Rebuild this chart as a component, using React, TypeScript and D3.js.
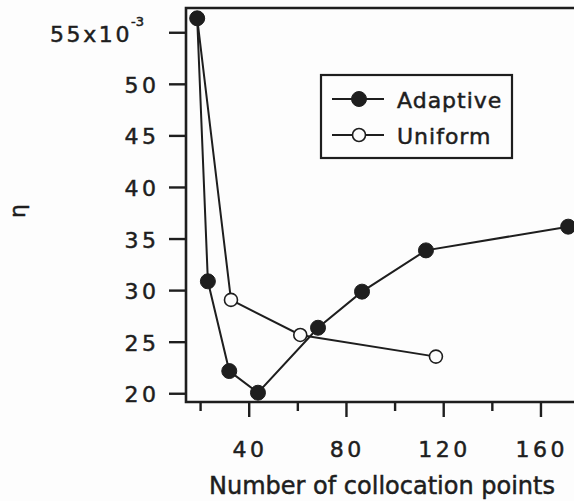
import { useEffect, useRef } from 'react';
import { select, scaleLinear, line } from 'd3';

// values (eta in units of 1e-3)
const adaptiveX = [18.6, 23, 31.8, 43.6, 68.3, 86.4, 112.7, 171.2];
const adaptiveY = [56.4, 30.9, 22.2, 20.1, 26.4, 29.9, 33.9, 36.2];
const uniformX = [18.6, 32.5, 61, 116.8];
const uniformY = [56.4, 29.1, 25.7, 23.6];
const xMajorTicks = [40, 80, 120, 160];
const xMinorTicks = [20, 60, 100, 140];
const yTicks = [20, 25, 30, 35, 40, 45, 50, 55];
const legendLabels = ['Adaptive', 'Uniform'];

const W = 574;
const H = 501;
const INK = '#1e1e1e';
const PAPER = '#fdfdfd';
const FONT = '"DejaVu Sans", Verdana, sans-serif';
const NUM_SPACING = 3.5;

export default function App() {
  const svgRef = useRef<SVGSVGElement>(null);

  useEffect(() => {
    if (!svgRef.current) return;
    const svg = select(svgRef.current);
    svg.selectAll('*').remove();

    const x = scaleLinear().domain([14, 174]).range([186, 575]);
    const y = scaleLinear().domain([19.2, 57.4]).range([402, 8]);
    const [x0] = x.range();
    const [yb, yt] = y.range();

    svg.append('rect').attr('width', W).attr('height', H).attr('fill', PAPER);

    // scanned print is a bit heavier than the regular face
    const ink = (sel: any) => sel.attr('fill', INK).attr('stroke', INK).attr('stroke-width', 0.5)
      .style('font-family', FONT);

    // frame (left, top, bottom; right side runs off the page)
    svg.append('path')
      .attr('d', `M${W + 5},${yt}H${x0}V${yb}H${W + 5}`)
      .attr('fill', 'none').attr('stroke', INK).attr('stroke-width', 2.6);

    // x ticks
    const xt = svg.append('g');
    xMajorTicks.forEach(t => {
      xt.append('line').attr('x1', x(t)).attr('x2', x(t)).attr('y1', yb).attr('y2', yb + 15)
        .attr('stroke', INK).attr('stroke-width', 2.4);
      xt.append('text').attr('x', x(t) + NUM_SPACING / 2 - 1).attr('y', 456.5).attr('text-anchor', 'middle')
        .style('font-size', '22px').style('letter-spacing', `${NUM_SPACING}px`)
        .call(ink).text(String(t));
    });
    xMinorTicks.forEach(t => {
      xt.append('line').attr('x1', x(t)).attr('x2', x(t)).attr('y1', yb).attr('y2', yb + 9)
        .attr('stroke', INK).attr('stroke-width', 2.4);
    });

    // y ticks
    const yg = svg.append('g');
    yTicks.forEach(t => {
      yg.append('line').attr('x1', x0 - 17).attr('x2', x0).attr('y1', y(t)).attr('y2', y(t))
        .attr('stroke', INK).attr('stroke-width', 2.4);
      if (t === 55) {
        const lab = yg.append('text').attr('x', 50).attr('y', y(t) + 9)
          .style('font-size', '22px').call(ink);
        lab.append('tspan').style('letter-spacing', '2.6px').text('55x10');
        lab.append('tspan').attr('dx', -1).attr('dy', -16).style('font-size', '13px').text('-3');
      } else {
        yg.append('text').attr('x', 156 + NUM_SPACING).attr('y', y(t) + 8.5)
          .attr('text-anchor', 'end').style('font-size', '22px')
          .style('letter-spacing', `${NUM_SPACING}px`).call(ink).text(String(t));
      }
    });

    // axis titles
    svg.append('text').attr('x', 382).attr('y', 494).attr('text-anchor', 'middle')
      .style('font-size', '24px').call(ink).text('Number of collocation points');
    svg.append('text').attr('transform', 'translate(25,211) rotate(-90)').attr('text-anchor', 'middle')
      .style('font-size', '22px').call(ink).text('η');

    const drawSeries = (xs: number[], ys: number[], filled: boolean) => {
      const pts = xs.map((v, i) => [x(v), y(ys[i])] as [number, number]);
      svg.append('path').datum(pts).attr('d', line())
        .attr('fill', 'none').attr('stroke', INK).attr('stroke-width', 2);
      svg.append('g').selectAll('circle').data(pts).join('circle')
        .attr('cx', d => d[0]).attr('cy', d => d[1]).attr('r', filled ? 7.5 : 6.5)
        .attr('fill', filled ? INK : PAPER).attr('stroke', INK).attr('stroke-width', filled ? 1 : 1.6);
    };
    drawSeries(uniformX, uniformY, false);
    drawSeries(adaptiveX, adaptiveY, true);

    // legend
    const lg = svg.append('g');
    lg.append('rect').attr('x', 321).attr('y', 75).attr('width', 191).attr('height', 83)
      .attr('fill', PAPER).attr('stroke', INK).attr('stroke-width', 2.2);
    legendLabels.forEach((name, i) => {
      const cy = 99 + i * 36;
      lg.append('line').attr('x1', 332).attr('x2', 384).attr('y1', cy).attr('y2', cy)
        .attr('stroke', INK).attr('stroke-width', 2);
      lg.append('circle').attr('cx', 359).attr('cy', cy).attr('r', i === 0 ? 7.5 : 6.5)
        .attr('fill', i === 0 ? INK : PAPER).attr('stroke', INK).attr('stroke-width', i === 0 ? 1 : 1.6);
      lg.append('text').attr('x', 397).attr('y', cy + 9)
        .style('font-size', '22px').style('letter-spacing', '1px')
        .call(ink).text(name);
    });
  }, []);

  return (
    <svg ref={svgRef} width={W} height={H}
      style={{ position: 'absolute', left: 0, top: 0, display: 'block' }} />
  );
}
